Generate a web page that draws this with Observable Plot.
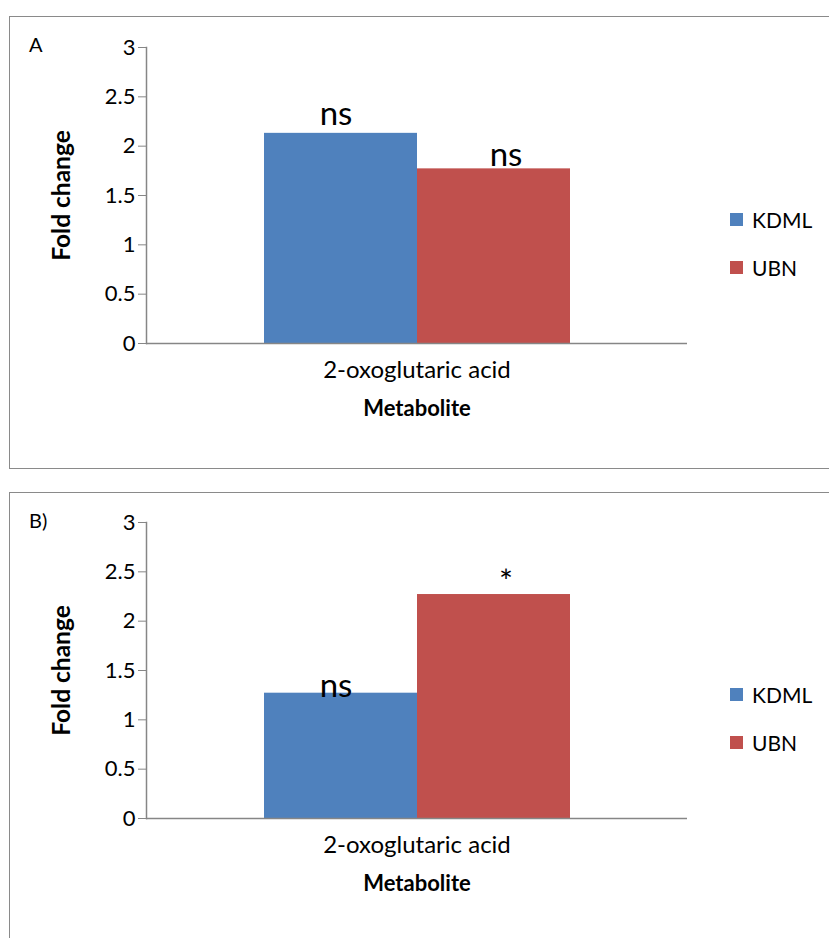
<!DOCTYPE html>
<html><head><meta charset="utf-8">
<script src="https://cdn.jsdelivr.net/npm/d3@7"></script>
<script src="https://cdn.jsdelivr.net/npm/@observablehq/plot@0.6"></script>
<style>
body{margin:0;background:#fff;font-family:Lato, sans-serif;}
#page{position:relative;width:829px;height:938px;overflow:hidden;background:#fff}
.box{position:absolute;border:1.5px solid #8a8a8a;box-sizing:border-box}
.plot{position:absolute;left:0}
.tag{position:absolute;font-size:20px;color:#000;line-height:1}
.legend{position:absolute;left:730px;font-size:21px;color:#000}
.item{position:absolute;left:0;display:flex;align-items:center;white-space:nowrap;line-height:1}
.sw{width:13px;height:13px;margin-right:9px}
</style></head>
<body><div id="page"></div>
<script>
const groups = ["KDML", "UBN"];
const colors = ["#4F81BD", "#C0504D"];
const metabolite = "2-oxoglutaric acid";
const xTitle = "Metabolite";
const yTitle = "Fold change";
const panelNames = ["A", "B)"];
const valuesA = [2.13, 1.77];
const valuesB = [1.27, 2.27];
const sigA = ["ns", "ns"];
const sigB = ["ns", "*"];
const yTicks = [0, 0.5, 1, 1.5, 2, 2.5, 3];

// label offsets (style only)
const labelDx = [-5, 12];
const labelDyA = [-8, -3];
const labelDyB = [4, -2];

const page = document.getElementById("page");

function makePanel(values, sig, labelDy, height, marginBottom) {
  const data = groups.map((g, i) => ({group: g, value: values[i], sig: sig[i]}));
  return Plot.plot({
    width: 829, height,
    marginTop: 47, marginBottom, marginLeft: 146, marginRight: 142,
    style: {fontFamily: "Lato, sans-serif", background: "transparent", overflow: "visible", color: "#000"},
    x: {type: "band", domain: groups, paddingInner: 0, paddingOuter: 0.7565, axis: null},
    y: {domain: [0, 3], axis: null},
    color: {domain: groups, range: colors},
    marks: [
      Plot.barY(data, {x: "group", y: "value", fill: "group"}),
      Plot.ruleY([0], {stroke: "#868686", strokeWidth: 1.5}),
      Plot.frame({anchor: "left", stroke: "#868686", strokeWidth: 1.5}),
      Plot.axisY({ticks: yTicks, tickSize: 8, tickPadding: 3, stroke: "#868686", fill: "#000", fontSize: 22, label: null, tickFormat: d => String(d)}),
      ...data.map((d, i) => Plot.text([d], {x: "group", y: "value", text: "sig", fontSize: 33, lineAnchor: "bottom", dx: labelDx[i], dy: labelDy[i]})),
      Plot.text([metabolite], {frameAnchor: "bottom", dy: 34, fontSize: 24, text: d => d}),
      Plot.text([xTitle], {frameAnchor: "bottom", dy: 72, fontSize: 22, fontWeight: "bold", text: d => d}),
      Plot.text([yTitle], {frameAnchor: "left", textAnchor: "middle", rotate: -90, dx: -84, fontSize: 24.5, fontWeight: "bold", text: d => d})
    ]
  });
}

function addPanel(top, boxTop, boxHeight, name, values, sig, labelDy, height, marginBottom) {
  const box = document.createElement("div");
  box.className = "box";
  box.style.left = "9px"; box.style.top = boxTop + "px";
  box.style.width = "840px"; box.style.height = boxHeight + "px";
  page.appendChild(box);
  const svg = makePanel(values, sig, labelDy, height, marginBottom);
  svg.classList.add("plot");
  svg.style.top = top + "px";
  page.appendChild(svg);
  const tag = document.createElement("div");
  tag.className = "tag"; tag.textContent = name;
  tag.style.left = "29px"; tag.style.top = (boxTop + 18) + "px";
  page.appendChild(tag);
  const leg = document.createElement("div");
  leg.className = "legend"; leg.style.top = top + "px";
  groups.forEach((g, i) => {
    const it = document.createElement("div");
    it.className = "item";
    it.style.top = (220 - 11 + i * 48) + "px";
    const sw = document.createElement("span");
    sw.className = "sw"; sw.style.background = colors[i];
    const tx = document.createElement("span"); tx.textContent = g;
    it.appendChild(sw); it.appendChild(tx);
    leg.appendChild(it);
  });
  page.appendChild(leg);
}

addPanel(0, 16, 453, panelNames[0], valuesA, sigA, labelDyA, 475, 132);
addPanel(475, 492, 470, panelNames[1], valuesB, sigB, labelDyB, 463, 120);
</script>
</body></html>
